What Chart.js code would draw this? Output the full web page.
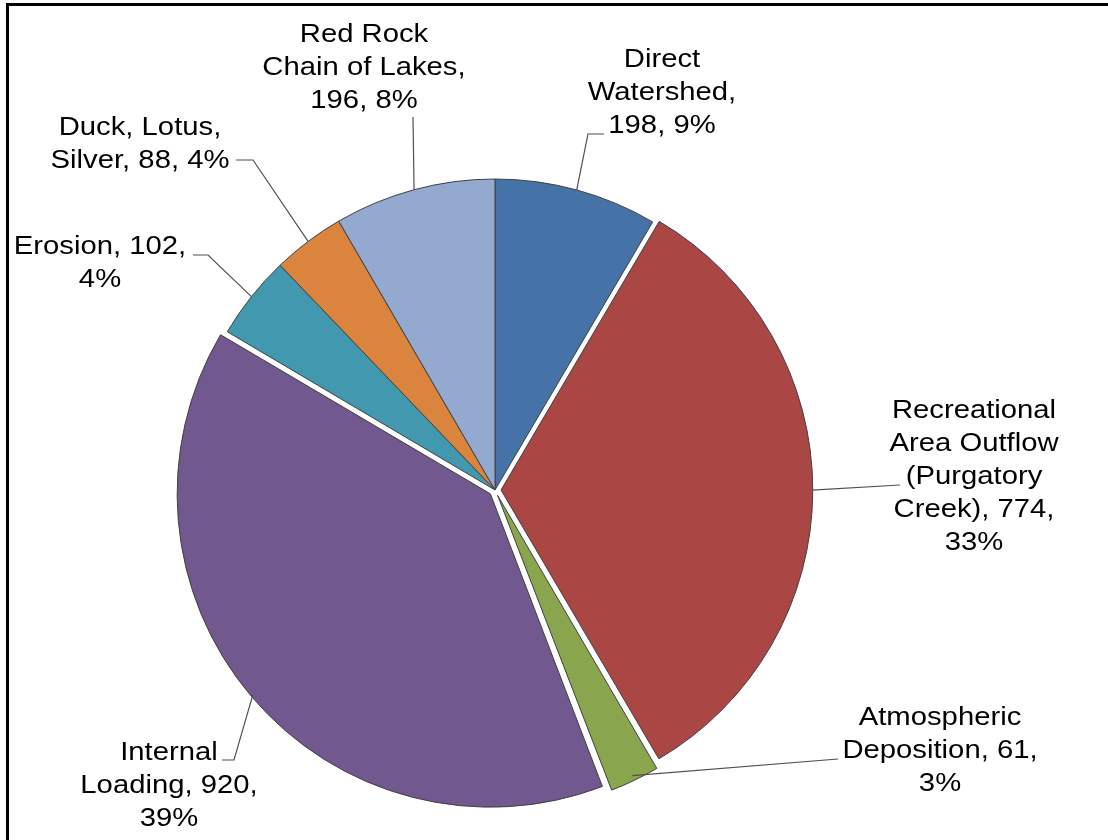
<!DOCTYPE html>
<html>
<head>
<meta charset="utf-8">
<title>Phosphorus load by source</title>
<script src="https://cdn.jsdelivr.net/npm/chart.js@4.4.0/dist/chart.umd.min.js"></script>
<style>
  html, body { margin: 0; padding: 0; background: #ffffff; }
  canvas { display: block; }
</style>
</head>
<body>
<canvas id="loadChart" width="1108" height="840"></canvas>
<script>
// load sources, clockwise from 12 o'clock
let sources = ['Direct Watershed', 'Recreational Area Outflow (Purgatory Creek)', 'Atmospheric Deposition',
    'Internal Loading', 'Erosion', 'Duck, Lotus, Silver', 'Red Rock Chain of Lakes'];
let loads = [198, 774, 61, 920, 102, 88, 196];
let percents = [9, 33, 3, 39, 4, 4, 8];

let colors = ['#4572A7', '#AA4643', '#89A54E', '#71588F', '#4198AF', '#DB843D', '#93A9CF'];
let exploded = [false, true, true, true, false, false, false];
let explodeBy = 6;

// words on each line of a data label
let lineBreaks = [[1, 1, 2], [1, 2, 1, 2, 1], [1, 2, 1], [1, 2, 1], [2, 1], [2, 3], [2, 3, 2]];

// where each label sits (centre x, first line y) and the bends of its leader line
let labelSpots = [
    { x: 662, y: 58, leader: [[588, 134], [604, 134]] },
    { x: 974, y: 409, leader: [[900, 485]] },
    { x: 940, y: 716, leader: [[838, 759]] },
    { x: 169, y: 751, leader: [[234, 760], [222, 760]] },
    { x: 100, y: 245, leader: [[208, 255], [193, 255]] },
    { x: 140, y: 126, leader: [[253, 160], [236, 160]] },
    { x: 364, y: 33, leader: [[413, 117]] }
];

let fontSize = 25, lineHeight = 33, stretchX = 1.17;

function labelLines(i) {
    let words = `${sources[i]}, ${loads[i]}, ${percents[i]}%`.split(' ');
    let lines = [], pos = 0;
    lineBreaks[i].forEach((n) => {
        lines.push(words.slice(pos, pos + n).join(' '));
        pos += n;
    });
    return lines;
}

let pieLabels = {
    id: 'pieLabels',
    afterDraw(chart) {
        let ctx = chart.ctx;
        let arcs = chart.getDatasetMeta(0).data;
        ctx.save();
        arcs.forEach((arc, i) => {
            let p = arc.getProps(['x', 'y', 'startAngle', 'endAngle', 'outerRadius'], true);
            let mid = (p.startAngle + p.endAngle) / 2;
            let r = p.outerRadius + (exploded[i] ? explodeBy : 0);
            let spot = labelSpots[i];

            ctx.beginPath();
            ctx.moveTo(p.x + Math.cos(mid) * r, p.y + Math.sin(mid) * r);
            spot.leader.forEach((pt) => ctx.lineTo(pt[0], pt[1]));
            ctx.strokeStyle = '#505050';
            ctx.lineWidth = 1.2;
            ctx.stroke();

            ctx.fillStyle = '#000000';
            ctx.font = `${fontSize}px "Liberation Sans", Arial, sans-serif`;
            ctx.textAlign = 'center';
            ctx.textBaseline = 'alphabetic';
            labelLines(i).forEach((line, k) => {
                ctx.save();
                ctx.translate(spot.x, spot.y + k * lineHeight + fontSize * 0.358);
                ctx.scale(stretchX, 1);
                ctx.fillText(line, 0, 0);
                ctx.restore();
            });
        });

        // outer frame, only top and left edges fall inside the page
        ctx.fillStyle = '#000000';
        ctx.fillRect(6, 3, 3, 840);
        ctx.fillRect(6, 3, 1102, 3);
        ctx.restore();
    }
};

new Chart(document.getElementById('loadChart'), {
    type: 'pie',
    data: {
        labels: sources,
        datasets: [{
            data: loads,
            backgroundColor: colors,
            borderColor: '#404040',
            borderWidth: 1,
            offset: exploded.map((e) => e ? explodeBy * 4 : 0)
        }]
    },
    options: {
        responsive: false,
        animation: false,
        radius: 311,
        layout: { padding: { left: 0, right: 118, top: 140, bottom: 0 } },
        plugins: {
            legend: { display: false },
            tooltip: { enabled: false }
        }
    },
    plugins: [pieLabels]
});
</script>
</body>
</html>
